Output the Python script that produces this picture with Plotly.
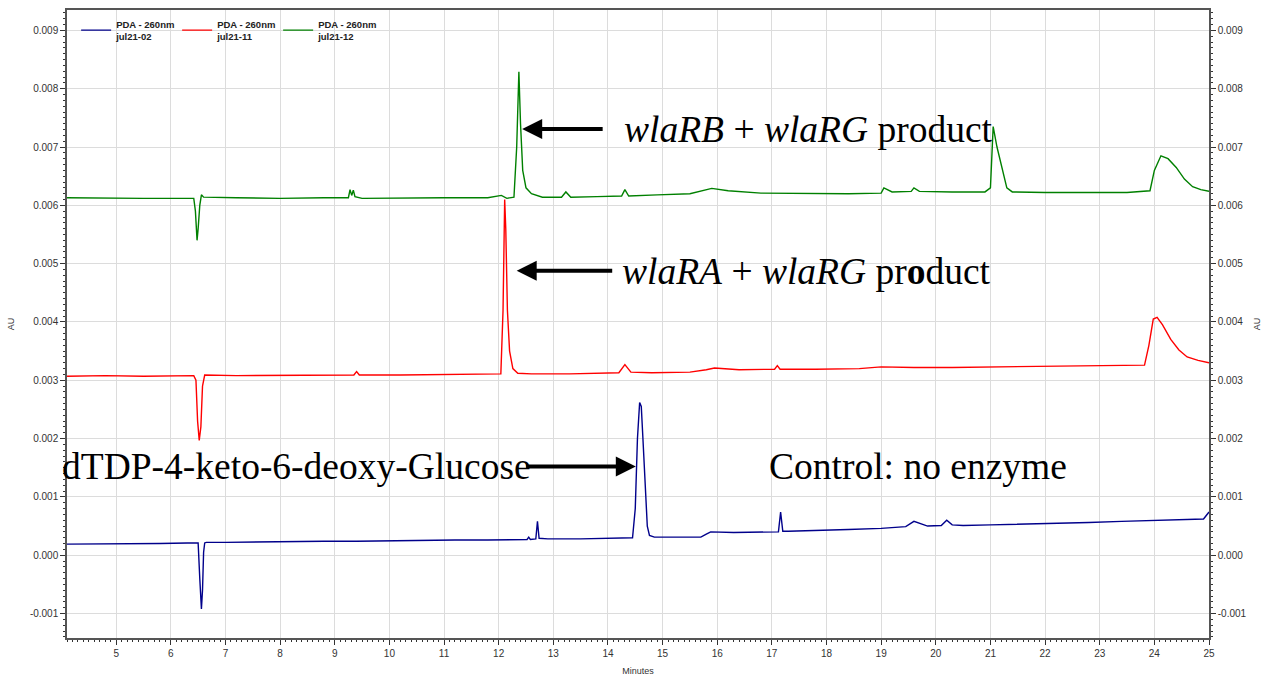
import plotly.graph_objects as go

# ---------------- data ----------------
# Control: no enzyme (PDA - 260nm, jul21-02)
t_blue = [4.10, 4.6, 5.2, 5.8, 6.3, 6.50, 6.53, 6.56, 6.58, 6.60, 6.62, 6.65, 7.0, 7.6, 8.2, 8.8, 9.4, 10.0,
          10.6, 11.2, 11.8, 12.3, 12.52, 12.55, 12.58, 12.68, 12.71, 12.74, 12.9, 13.5, 14.0, 14.45, 14.50,
          14.54, 14.58, 14.61, 14.64, 14.68, 14.72, 14.76, 14.85, 15.2, 15.7, 15.80, 15.88, 16.3, 16.8, 17.12,
          17.16, 17.20, 17.3, 17.8, 18.4, 19.0, 19.45, 19.60, 19.70, 19.85, 20.10, 20.20, 20.30, 20.5, 21.0,
          21.6, 22.2, 22.8, 23.4, 24.0, 24.6, 24.90, 25.0]
v_blue = [0.00019, 0.00019, 0.00020, 0.00020, 0.00021, 0.00021, -0.00040, -0.00092, -0.00060, 0.00005,
          0.00021, 0.00022, 0.00022, 0.00023, 0.00023, 0.00024, 0.00024, 0.00025, 0.00025, 0.00026, 0.00026,
          0.00027, 0.00027, 0.00031, 0.00027, 0.00028, 0.00058, 0.00029, 0.00028, 0.00028, 0.00029, 0.00030,
          0.00080, 0.00200, 0.00262, 0.00255, 0.00200, 0.00110, 0.00050, 0.00034, 0.00031, 0.00031, 0.00031,
          0.00036, 0.00040, 0.00039, 0.00040, 0.00040, 0.00074, 0.00041, 0.00041, 0.00042, 0.00044, 0.00046,
          0.00049, 0.00058, 0.00055, 0.00050, 0.00051, 0.00060, 0.00052, 0.00051, 0.00052, 0.00053, 0.00055,
          0.00056, 0.00058, 0.00060, 0.00061, 0.00062, 0.00074]

# wlaRA + wlaRG (PDA - 260nm, jul21-11)
t_red = [4.10, 4.8, 5.5, 6.1, 6.42, 6.46, 6.49, 6.52, 6.55, 6.58, 6.62, 7.2, 8.0, 8.8, 9.35, 9.40, 9.45,
         10.2, 11.0, 11.7, 12.04, 12.08, 12.11, 12.13, 12.16, 12.20, 12.26, 12.35, 12.6, 13.3, 14.2, 14.31,
         14.42, 14.8, 15.5, 15.80, 15.95, 16.4, 17.05, 17.10, 17.15, 17.8, 18.6, 19.0, 19.3, 19.6, 20.3, 21.0,
         21.8, 22.6, 23.3, 23.82, 23.90, 23.98, 24.05, 24.15, 24.30, 24.45, 24.6, 24.8, 25.0]
v_red = [0.00307, 0.00308, 0.00307, 0.00308, 0.00308, 0.00300, 0.00230, 0.00197, 0.00220, 0.00290,
         0.00309, 0.00308, 0.00308, 0.00309, 0.00309, 0.00315, 0.00309, 0.00309, 0.00310, 0.00310, 0.00311,
         0.00420, 0.00610, 0.00560, 0.00420, 0.00350, 0.00320, 0.00312, 0.00311, 0.00311, 0.00313, 0.00327,
         0.00314, 0.00313, 0.00314, 0.00318, 0.00321, 0.00318, 0.00319, 0.00325, 0.00319, 0.00319, 0.00320,
         0.00323, 0.00322, 0.00322, 0.00322, 0.00323, 0.00324, 0.00324, 0.00325, 0.00326, 0.00360, 0.00405,
         0.00408, 0.00395, 0.00370, 0.00352, 0.00340, 0.00334, 0.00330]

# wlaRB + wlaRG (PDA - 260nm, jul21-12)
t_green = [4.10, 4.8, 5.5, 6.1, 6.42, 6.45, 6.48, 6.50, 6.53, 6.56, 6.60, 7.2, 8.0, 8.8, 9.25, 9.28, 9.31,
           9.34, 9.37, 9.50, 10.2, 11.0, 11.8, 12.05, 12.15, 12.28, 12.33, 12.37, 12.40, 12.44, 12.50,
           12.60, 12.8, 13.15, 13.23, 13.32, 13.8, 14.25, 14.31, 14.38, 14.9, 15.5, 15.9, 16.2, 16.8, 17.6,
           18.4, 19.0, 19.05, 19.2, 19.55, 19.60, 19.7, 20.3, 20.9, 21.00, 21.05, 21.12, 21.20, 21.30, 21.40,
           22.0, 22.8, 23.5, 23.92, 24.00, 24.12, 24.25, 24.40, 24.55, 24.7, 24.85, 25.0]
v_green = [0.00613, 0.00612, 0.00612, 0.00612, 0.00612, 0.00590, 0.00540, 0.00560, 0.00600, 0.00618,
           0.00614, 0.00613, 0.00612, 0.00613, 0.00613, 0.00627, 0.00617, 0.00626, 0.00615, 0.00612, 0.00613,
           0.00613, 0.00613, 0.00617, 0.00612, 0.00614, 0.00700, 0.00829, 0.00740, 0.00660, 0.00630, 0.00620,
           0.00614, 0.00614, 0.00623, 0.00614, 0.00615, 0.00616, 0.00627, 0.00616, 0.00618, 0.00620, 0.00629,
           0.00625, 0.00621, 0.00620, 0.00620, 0.00621, 0.00630, 0.00623, 0.00624, 0.00630, 0.00624, 0.00623,
           0.00623, 0.00630, 0.00735, 0.00700, 0.00670, 0.00630, 0.00623, 0.00622, 0.00622, 0.00622, 0.00625,
           0.00660, 0.00685, 0.00680, 0.00665, 0.00645, 0.00632, 0.00627, 0.00624]

series_names = ["PDA - 260nm<br>jul21-02", "PDA - 260nm<br>jul21-11", "PDA - 260nm<br>jul21-12"]
series_colors = ["#00008b", "#ff0000", "#008000"]

x_ticks = list(range(5, 26))
y_ticks = [-0.001, 0.000, 0.001, 0.002, 0.003, 0.004, 0.005, 0.006, 0.007, 0.008, 0.009]
y_tick_text = ["-0.001", "0.000", "0.001", "0.002", "0.003", "0.004", "0.005", "0.006", "0.007", "0.008", "0.009"]

x_range = [4.1, 25.0]
y_range = [-0.00142, 0.00935]

# ---------------- figure ----------------
fig = go.Figure()
for t, v, name, col in zip([t_blue, t_red, t_green], [v_blue, v_red, v_green], series_names, series_colors):
    fig.add_trace(go.Scatter(x=t, y=v, mode="lines", name="<b>" + name + "</b>",
                             line=dict(color=col, width=1.4)))

# invisible trace to keep right axis alive
fig.add_trace(go.Scatter(x=[x_range[0]], y=[y_range[0]], yaxis="y2", mode="markers",
                         marker=dict(opacity=0), showlegend=False, hoverinfo="skip"))

tick_font = dict(family="Liberation Sans, Arial", size=10, color="#333333")
axis_common = dict(showline=True, linecolor="#555555", linewidth=1.5, ticks="outside",
                   ticklen=5, tickcolor="#333333", tickfont=tick_font, automargin=False)

fig.update_layout(
    width=1262, height=677,
    margin=dict(l=67, r=53, t=10, b=39),
    paper_bgcolor="white", plot_bgcolor="white",
    xaxis=dict(range=x_range, tickvals=x_ticks, showgrid=True, gridcolor="#dcdcdc", gridwidth=1,
               mirror=True, zeroline=False,
               minor=dict(dtick=0.1, ticklen=2, tickcolor="#333333", ticks="outside", showgrid=False),
               title=dict(text="Minutes", font=dict(family="Liberation Sans, Arial", size=9, color="#333333"),
                          standoff=10),
               **axis_common),
    yaxis=dict(range=y_range, tickvals=y_ticks, ticktext=y_tick_text, showgrid=True, gridcolor="#dcdcdc",
               gridwidth=1, zeroline=False, mirror=True,
               minor=dict(dtick=0.0001, ticklen=2, tickcolor="#333333", ticks="outside", showgrid=False),
               title=dict(text="AU", font=dict(family="Liberation Sans, Arial", size=9, color="#333333"),
                          standoff=14),
               **axis_common),
    yaxis2=dict(range=y_range, tickvals=y_ticks, ticktext=y_tick_text, overlaying="y", side="right",
                showgrid=False, zeroline=False,
                minor=dict(dtick=0.0001, ticklen=2, tickcolor="#333333", ticks="outside", showgrid=False),
                title=dict(text="AU", font=dict(family="Liberation Sans, Arial", size=9, color="#333333"),
                           standoff=8),
                **axis_common),
    legend=dict(orientation="h", x=0.008, y=0.998, xanchor="left", yanchor="top",
                bgcolor="rgba(0,0,0,0)", font=dict(family="Liberation Sans, Arial", size=9.5, color="#222222"),
                itemwidth=30, tracegroupgap=0, entrywidth=56),
    showlegend=True,
)

serif = dict(family="Liberation Serif, Times New Roman", size=37.5, color="black")
ann = [
    # arrows
    dict(x=12.43, y=0.00731, ax=82, ay=0, axref="pixel", ayref="pixel", text="", showarrow=True,
         arrowhead=2, arrowsize=1.0, arrowwidth=4, arrowcolor="black"),
    dict(x=12.33, y=0.00488, ax=97, ay=0, axref="pixel", ayref="pixel", text="", showarrow=True,
         arrowhead=2, arrowsize=1.0, arrowwidth=4, arrowcolor="black"),
    dict(x=14.51, y=0.00152, ax=-111, ay=0, axref="pixel", ayref="pixel", text="", showarrow=True,
         arrowhead=2, arrowsize=1.0, arrowwidth=4, arrowcolor="black"),
    # labels
    dict(x=14.26, y=0.00730, text="<i>wlaRB</i> + <i>wlaRG</i> product", showarrow=False,
         xanchor="left", yanchor="middle", font=serif),
    dict(x=14.22, y=0.00486, text="<i>wlaRA</i> + <i>wlaRG</i> pr<b>o</b>duct", showarrow=False,
         xanchor="left", yanchor="middle", font=serif),
    dict(x=-0.006, xref="paper", y=0.00152, text="dTDP-4-keto-6-deoxy-Glucose", showarrow=False,
         xanchor="left", yanchor="middle", font=serif),
    dict(x=16.91, y=0.00152, text="Control: no enzyme", showarrow=False,
         xanchor="left", yanchor="middle", font=serif),
]
fig.update_layout(annotations=ann)

fig.write_html("out.html")
